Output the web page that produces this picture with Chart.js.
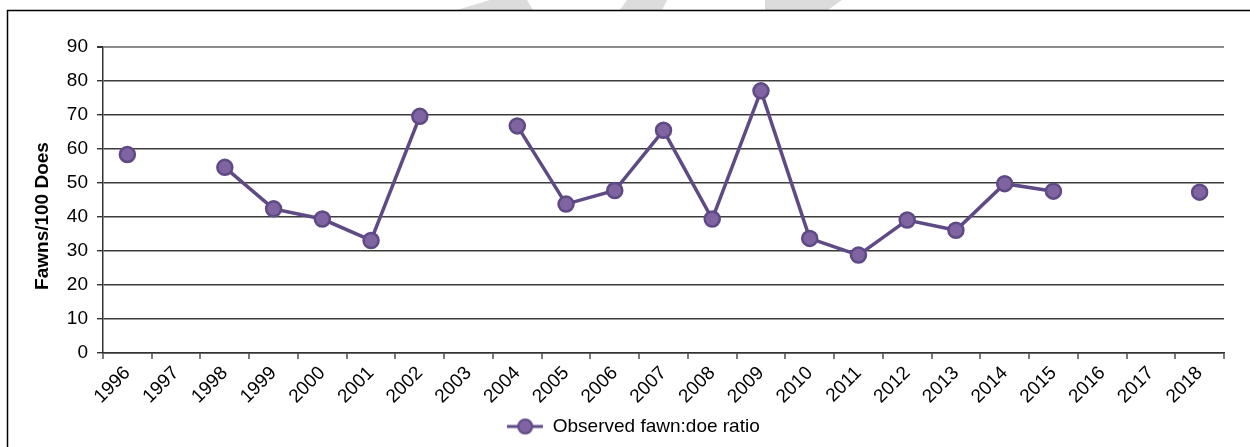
<!DOCTYPE html>
<html>
<head>
<meta charset="utf-8">
<script src="https://cdn.jsdelivr.net/npm/chart.js@4.4.1/dist/chart.umd.min.js"></script>
<style>
  html, body { margin: 0; padding: 0; background: #ffffff; }
  #wrap { width: 1250px; height: 447px; }
</style>
</head>
<body>
<div id="wrap"><canvas id="c" width="1250" height="447"></canvas></div>
<script>
// Survey years on the category axis
const years = ['1996','1997','1998','1999','2000','2001','2002','2003','2004','2005','2006',
               '2007','2008','2009','2010','2011','2012','2013','2014','2015','2016','2017','2018'];
// Observed fawns per 100 does (null = no survey that year)
const fawnDoeRatio = [58.4, null, 54.6, 42.4, 39.4, 33.1, 69.6, null, 66.8, 43.8, 47.8,
                      65.5, 39.4, 77.1, 33.7, 28.8, 39.1, 36.1, 49.8, 47.6, null, null, 47.3];
// Value axis ticks
const yTicks = [0, 10, 20, 30, 40, 50, 60, 70, 80, 90];

const seriesName = 'Observed fawn:doe ratio';
const axisTitle = 'Fawns/100 Does';
const LINE = '#5e4a85';
const FILL = '#8064a2';
const FONT = '"Liberation Sans", Arial, sans-serif';

// Legend swatch: a short line with a marker on it
function legendSwatch() {
  const cv = document.createElement('canvas');
  cv.width = 36; cv.height = 18;
  const g = cv.getContext('2d');
  g.strokeStyle = LINE; g.lineWidth = 3;
  g.beginPath(); g.moveTo(0, 9); g.lineTo(36, 9); g.stroke();
  g.beginPath(); g.arc(18, 9, 7, 0, Math.PI * 2);
  g.fillStyle = FILL; g.fill();
  g.lineWidth = 2; g.strokeStyle = LINE; g.stroke();
  return cv;
}
const swatch = legendSwatch();

// Frame, faint background lettering, and the rotated value-axis title
const decor = {
  id: 'decor',
  beforeDraw(chart) {
    const ctx = chart.ctx;
    ctx.save();
    ctx.fillStyle = '#ffffff';
    ctx.fillRect(0, 0, chart.width, chart.height);
    ctx.beginPath(); ctx.rect(0, 0, chart.width, 10); ctx.clip();
    ctx.fillStyle = '#dcdcdc';
    [[[490, 0], [527, 0], [533, 10], [457, 10]],
     [[627, 0], [667, 0], [662, 10], [620, 10]],
     [[765, 0], [842, 0], [828, 10], [765, 10]]].forEach(p => {
      ctx.beginPath();
      ctx.moveTo(p[0][0], p[0][1]);
      for (let i = 1; i < p.length; i++) ctx.lineTo(p[i][0], p[i][1]);
      ctx.closePath(); ctx.fill();
    });
    ctx.restore();
    ctx.save();
    ctx.strokeStyle = '#000000'; ctx.lineWidth = 1.5;
    ctx.beginPath();
    ctx.moveTo(7.5, chart.height + 5); ctx.lineTo(7.5, 10.5); ctx.lineTo(chart.width + 5, 10.5);
    ctx.stroke();
    ctx.restore();
  },
  afterDraw(chart) {
    const ctx = chart.ctx;
    ctx.save();
    ctx.translate(43, 216);
    ctx.rotate(-Math.PI / 2);
    ctx.font = 'bold 19px ' + FONT;
    ctx.fillStyle = '#000000';
    ctx.textAlign = 'center';
    ctx.textBaseline = 'middle';
    ctx.fillText(axisTitle, 0, 0);
    ctx.restore();
  }
};

new Chart(document.getElementById('c'), {
  type: 'line',
  data: {
    labels: years,
    datasets: [{
      label: seriesName,
      data: fawnDoeRatio,
      borderColor: LINE,
      borderWidth: 3.5,
      backgroundColor: FILL,
      pointBackgroundColor: FILL,
      pointBorderColor: LINE,
      pointBorderWidth: 2.5,
      pointRadius: 7.5,
      pointStyle: 'circle',
      spanGaps: false,
      tension: 0
    }]
  },
  options: {
    responsive: false,
    animation: false,
    layout: { padding: { left: 43, right: 26, top: 47, bottom: 1 } },
    plugins: {
      legend: {
        position: 'bottom',
        labels: {
          usePointStyle: true,
          pointStyleWidth: 36,
          color: '#000000',
          font: { family: FONT, size: 19 },
          generateLabels() {
            return [{ text: seriesName, pointStyle: swatch, fillStyle: FILL, strokeStyle: LINE, lineWidth: 0, datasetIndex: 0 }];
          }
        }
      },
      tooltip: { enabled: false }
    },
    scales: {
      x: {
        offset: true,
        grid: {
          offset: true,
          drawOnChartArea: true,
          color: c => (c.index === years.length ? '#9a9a9a' : 'rgba(0,0,0,0)'),
          lineWidth: 2,
          tickColor: '#333333',
          tickLength: 6,
          tickWidth: 1.3
        },
        border: { display: true, color: '#333333', width: 1.5 },
        ticks: {
          color: '#000000',
          font: { family: FONT, size: 19 },
          maxRotation: 45, minRotation: 45,
          autoSkip: false,
          padding: 3
        },
        afterFit(s) { s.height = 54; }
      },
      y: {
        min: 0, max: 90,
        afterBuildTicks(s) { s.ticks = yTicks.map(v => ({ value: v })); },
        grid: {
          color: c => (c.tick && c.tick.value === 90 ? '#8c8c8c' : '#3c3c3c'),
          lineWidth: c => (c.tick && c.tick.value === 90 ? 2 : 1.4),
          tickColor: '#333333',
          tickLength: 6
        },
        border: { display: true, color: '#333333', width: 1.5 },
        ticks: {
          color: '#000000',
          font: { family: FONT, size: 19 },
          padding: 9
        },
        afterFit(s) { s.width = 60; }
      }
    }
  },
  plugins: [decor]
});
</script>
</body>
</html>
